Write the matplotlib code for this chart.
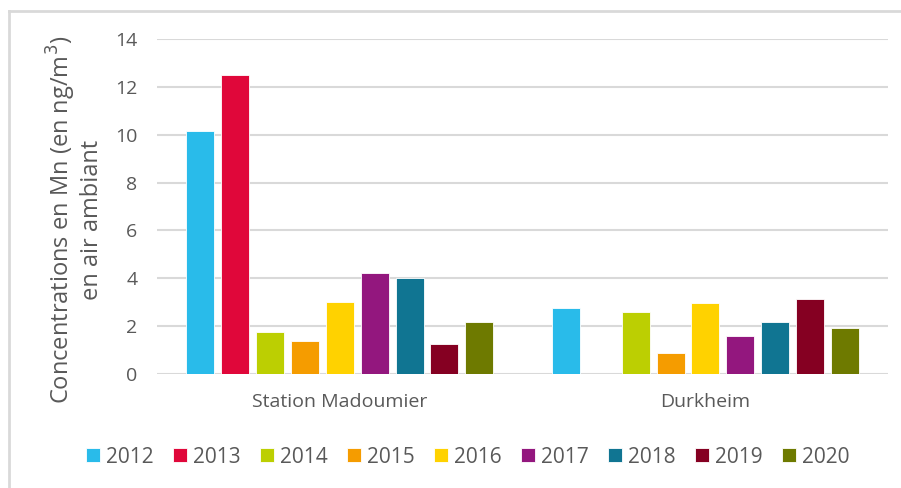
import numpy as np
import matplotlib.pyplot as plt
from matplotlib.lines import Line2D

stations = ["Station Madoumier", "Durkheim"]
years = ["2012", "2013", "2014", "2015", "2016", "2017", "2018", "2019", "2020"]
colors = ["#29bbea", "#e0073a", "#bccf02", "#f59c00", "#ffd200",
          "#93177e", "#107592", "#850022", "#6e7a00"]

# Mn concentrations (ng/m3) per year, [Madoumier, Durkheim]
mn_2012 = [10.15, 2.75]
mn_2013 = [12.5, np.nan]
mn_2014 = [1.75, 2.6]
mn_2015 = [1.37, 0.87]
mn_2016 = [3.0, 2.95]
mn_2017 = [4.22, 1.58]
mn_2018 = [4.02, 2.17]
mn_2019 = [1.26, 3.13]
mn_2020 = [2.17, 1.92]
values = [mn_2012, mn_2013, mn_2014, mn_2015, mn_2016,
          mn_2017, mn_2018, mn_2019, mn_2020]

plt.rcParams['font.family'] = ['Open Sans', 'DejaVu Sans']
grey = "#595959"

fig = plt.figure(figsize=(9.01, 4.88), dpi=100)
ax = fig.add_axes([0.174, 0.2336, 0.812, 0.6864])

index = np.arange(len(stations))
pitch = 0.0955
bar_width = 0.0766
for i, (y, c) in enumerate(zip(years, colors)):
    offs = (i - 4) * pitch
    ax.bar(index + offs, values[i], bar_width, color=c, label=y,
           edgecolor="white", linewidth=0.6, zorder=3)

ax.set_xlim(-0.5, 1.5)
ax.set_ylim(0, 14)
ax.set_yticks(range(0, 15, 2))
ax.set_xticks(index)
ax.set_xticklabels(stations)
ax.yaxis.grid(True, color="#d9d9d9", linewidth=1.5, zorder=0)
ax.set_axisbelow(True)
for s in ax.spines.values():
    s.set_visible(False)
ax.tick_params(axis="y", length=0, labelsize=14, colors=grey, pad=14)
ax.tick_params(axis="x", length=0, labelsize=14, colors=grey, pad=14)

fig.text(74 / 901, 1 - 220 / 488,
         "Concentrations en Mn (en ng/m$^3$)\nen air ambiant",
         rotation=90, ha="center", va="center", multialignment="center",
         fontsize=17, color=grey, linespacing=1.1)

handles, labels = ax.get_legend_handles_labels()
fig.legend(handles, labels, loc="center", bbox_to_anchor=(0.519, 0.0635),
           ncol=9, frameon=False, fontsize=15, handlelength=0.67,
           handleheight=0.67, handletextpad=0.29, columnspacing=0.93,
           labelcolor=grey, borderpad=0)

# light frame (top and left edges visible)
fig.add_artist(Line2D([9 / 901, 1], [1 - 11 / 488, 1 - 11 / 488],
                      color="#d9d9d9", linewidth=2, transform=fig.transFigure))
fig.add_artist(Line2D([9 / 901, 9 / 901], [0, 1 - 11 / 488],
                      color="#d9d9d9", linewidth=2, transform=fig.transFigure))

plt.savefig("out.png", dpi=100)
